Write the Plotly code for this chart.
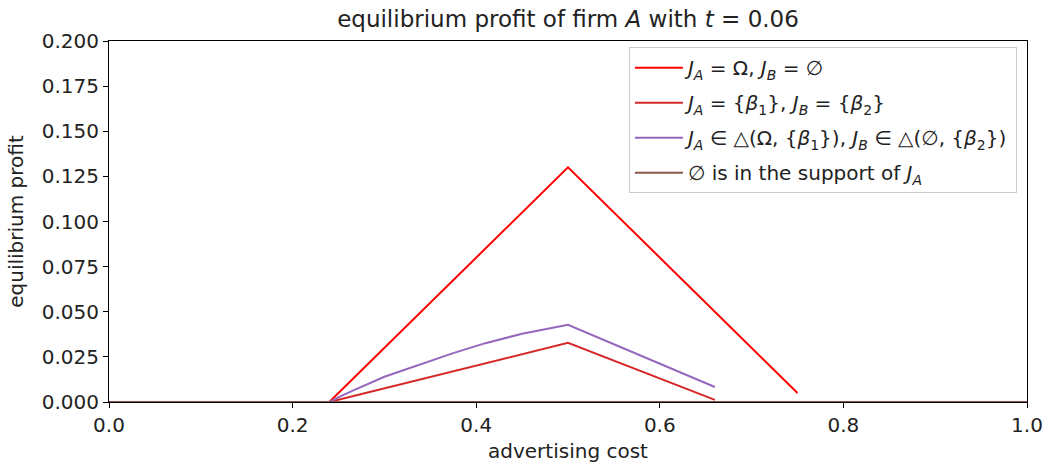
import plotly.graph_objects as go

# advertising cost grid points and equilibrium profits for each regime
x_monopoly = [0.0, 0.24, 0.50, 0.75]
y_monopoly = [0.0, 0.0, 0.130, 0.005]

x_split = [0.0, 0.24, 0.50, 0.66]
y_split = [0.0, 0.0, 0.0328, 0.0012]

x_mixed = [0.0, 0.24, 0.252, 0.265, 0.30, 0.34, 0.375, 0.41, 0.45, 0.50, 0.66]
y_mixed = [0.0, 0.0, 0.0031, 0.0062, 0.0140, 0.0211, 0.0271, 0.0326, 0.0378, 0.0428, 0.0083]

x_empty = [0.0, 1.0]
y_empty = [0.0, 0.0]

names = [
    "<i>J</i><sub><i>A</i></sub> = Ω, <i>J</i><sub><i>B</i></sub> = ∅",
    "<i>J</i><sub><i>A</i></sub> = {<i>β</i><sub>1</sub>}, <i>J</i><sub><i>B</i></sub> = {<i>β</i><sub>2</sub>}",
    "<i>J</i><sub><i>A</i></sub> ∈ △(Ω, {<i>β</i><sub>1</sub>}), <i>J</i><sub><i>B</i></sub> ∈ △(∅, {<i>β</i><sub>2</sub>})",
    "∅ is in the support of <i>J</i><sub><i>A</i></sub>",
]
colors = ["#ff0000", "#d62728", "#9467bd", "#8c564b"]
xs = [x_monopoly, x_split, x_mixed, x_empty]
ys = [y_monopoly, y_split, y_mixed, y_empty]

fig = go.Figure()
for i, (xv, yv, nm, c) in enumerate(zip(xs, ys, names, colors)):
    fig.add_trace(go.Scatter(x=xv, y=yv, mode="lines", name=nm,
                             legendgroup=f"g{i}",
                             line=dict(color=c, width=2)))

font = "DejaVu Sans, sans-serif"
txt = "#222"
axis_common = dict(
    automargin=False,
    showgrid=False, zeroline=False, showline=True, linecolor="black",
    linewidth=1, mirror=True, ticks="outside", ticklen=5, tickwidth=1,
    tickcolor="black", tickfont=dict(family=font, size=20, color=txt),
)

fig.update_layout(
    width=1045, height=464,
    margin=dict(l=109, r=18, t=41, b=62),
    paper_bgcolor="white", plot_bgcolor="white",
    title=dict(text="equilibrium profit of firm <i>A</i> with <i>t</i> = 0.06",
               x=(109 + 1027) / 2 / 1045, xanchor="center",
               y=1 - 19 / 464, yanchor="middle",
               font=dict(family=font, size=23, color=txt)),
    xaxis=dict(range=[0, 1], tickvals=[0, 0.2, 0.4, 0.6, 0.8, 1.0],
               ticktext=["0.0", "0.2", "0.4", "0.6", "0.8", "1.0"],
               title=dict(text="advertising cost", standoff=7,
                          font=dict(family=font, size=20, color=txt)),
               **axis_common),
    yaxis=dict(range=[0, 0.2],
               tickvals=[0, 0.025, 0.05, 0.075, 0.1, 0.125, 0.15, 0.175, 0.2],
               ticktext=["0.000", "0.025", "0.050", "0.075", "0.100", "0.125",
                         "0.150", "0.175", "0.200"],
               title=dict(text="equilibrium profit", standoff=12,
                          font=dict(family=font, size=20, color=txt)),
               **axis_common),
    legend=dict(x=0.989, y=0.983, xanchor="right", yanchor="top",
                bgcolor="rgba(255,255,255,0.8)", bordercolor="#cccccc",
                borderwidth=1, font=dict(family=font, size=20, color=txt),
                tracegroupgap=6, itemwidth=48),
    showlegend=True,
)

fig.write_html(
    "out.html",
    post_script="document.body.style.margin='0';document.body.style.overflow='hidden';",
)
